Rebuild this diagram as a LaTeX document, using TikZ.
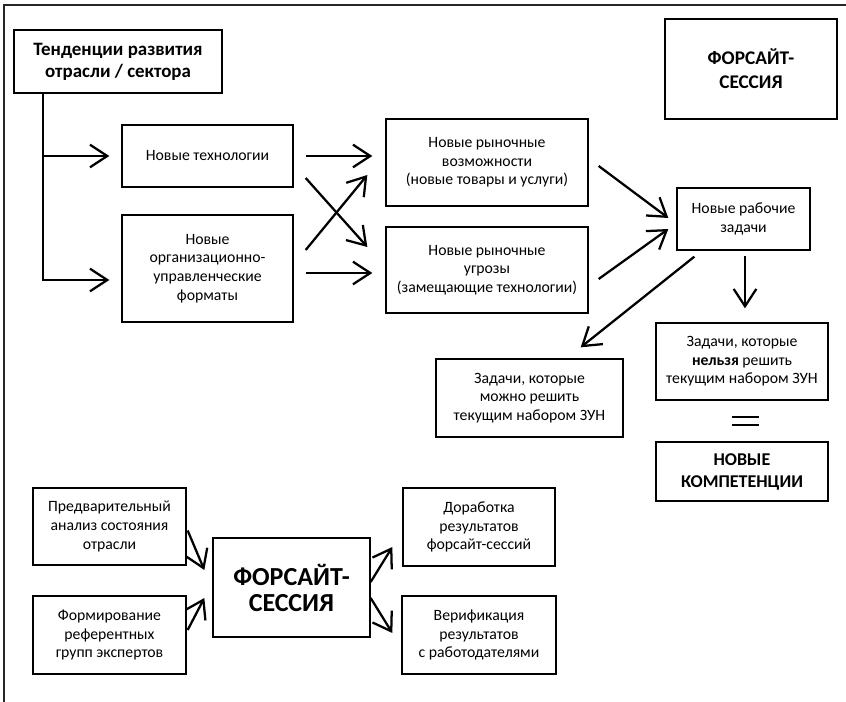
\documentclass[tikz,border=0pt]{standalone}
\usepackage{fontspec}
\setmainfont{Carlito}
\usetikzlibrary{arrows.meta,calc}
\begin{document}
\begin{tikzpicture}[x=0.75pt,y=-0.75pt,
  box/.style={draw, line width=1pt, align=center, inner sep=0pt, font=\fontsize{11.8}{14}\selectfont},
  sz/.style 2 args={minimum width=#1*0.75pt, minimum height=#2*0.75pt},
  boldbox/.style={box, font=\fontsize{14.2}{16.5}\selectfont\bfseries},
  arr/.style={line width=1.7pt, -{Straight Barb[length=13pt,width=17pt,line width=1.7pt]}},
  eqline/.style={line width=1.5pt},
  frame/.style={line width=1.2pt, black!85}
]
\useasboundingbox (0,0) rectangle (846,702);
\draw[frame] (4,702) -- (4,5) -- (846,5);

\node[boldbox, sz={208}{63}] (trend) at (118,61.5) {Тенденции развития\\отрасли / сектора};
\node[box, sz={171}{62}] (tech) at (207.5,156) {Новые технологии};
\node[box, sz={171}{107}] (org) at (207.5,268.5) {Новые\\организационно-\\управленческие\\форматы};
\node[box, sz={202}{87}] (opp) at (487,162.5) {Новые рыночные\\возможности\\(новые товары и услуги)};
\node[box, sz={202}{86}] (threat) at (487,270) {Новые рыночные\\угрозы\\(замещающие технологии)};
\node[boldbox, sz={172}{100}, font=\fontsize{14.5}{18}\selectfont\bfseries] (fs1) at (751,69) {ФОРСАЙТ-\\СЕССИЯ};
\node[box, sz={133}{62}] (tasks) at (743.5,219) {Новые рабочие\\задачи};
\node[box, sz={172}{77}] (cannot) at (742,361.5) {Задачи, которые\\\textbf{нельзя} решить\\текущим набором ЗУН};
\node[box, sz={187}{78}] (can) at (529.5,398) {Задачи, которые\\можно решить\\текущим набором ЗУН};
\node[boldbox, sz={172}{59}, font=\fontsize{13.5}{16.5}\selectfont\bfseries] (comp) at (742,471.5) {НОВЫЕ\\КОМПЕТЕНЦИИ};
\node[box, sz={153}{77}] (pre) at (109.5,526.5) {Предварительный\\анализ состояния\\отрасли};
\node[box, sz={153}{78}] (form) at (109.5,635) {Формирование\\референтных\\групп экспертов};
\node[boldbox, sz={157}{99}, font=\fontsize{19.5}{19.5}\selectfont\bfseries] (fs2) at (291.5,587.5) {ФОРСАЙТ-\\СЕССИЯ};
\node[box, sz={152}{78}] (dor) at (479,527) {Доработка\\результатов\\форсайт-сессий};
\node[box, sz={154}{78}] (ver) at (479,635) {Верификация\\результатов\\с работодателями};

% spine from trends
\coordinate (spine) at ($(trend.south west)+(30,0)$);
\draw[arr] (spine) |- ($(org.west)+(-12,11.5)$);
\draw[arr] (spine |- tech.west) -- ($(tech.west)+(-12,0)$);

% to market boxes
\draw[arr] ($(tech.east)+(12,0)$) -- ($(tech.east -| opp.west)+(-13,0)$);
\draw[arr] ($(org.east)+(12,4.5)$) -- ($(threat.west)+(-13,3)$);
\draw[arr] ($(tech.east)+(12,22)$) -- ($(threat.west)+(-18,-23)$);
\draw[arr] ($(org.east)+(12,-18.5)$) -- ($(opp.west)+(-18,12.5)$);

% to tasks
\draw[arr] ($(opp.east)+(10,3.5)$) -- ($(tasks.west)+(-8,-1)$);
\draw[arr] ($(threat.east)+(10,9)$) -- ($(tasks.west)+(-8,10)$);
\draw[arr] ($(tasks.south west)+(18,6)$) -- ($(can.north east)+(-43,-11)$);
\draw[arr] ($(tasks.south)+(1.5,5)$) -- ($(tasks.south |- cannot.north)+(1.5,-14)$);

% equal sign
\coordinate (eq) at ($(cannot.south)!0.5!(comp.north)+(3.5,0)$);
\draw[eqline] ($(eq)+(-13.5,-4)$) -- ++(27,0);
\draw[eqline] ($(eq)+(-13.5,4)$) -- ++(27,0);

% bottom section
\draw[arr] ($(pre.east)+(1,4)$) -- ($(fs2.west)+(-8,-17.5)$);
\draw[arr] ($(form.east)+(1,-5)$) -- ($(fs2.west)+(-8,10.5)$);
\draw[arr] ($(fs2.east)+(0,-5.5)$) -- ($(dor.west)+(-10,20)$);
\draw[arr] ($(fs2.east)+(0,10.5)$) -- ($(ver.west)+(-9,-2)$);
\end{tikzpicture}
\end{document}
